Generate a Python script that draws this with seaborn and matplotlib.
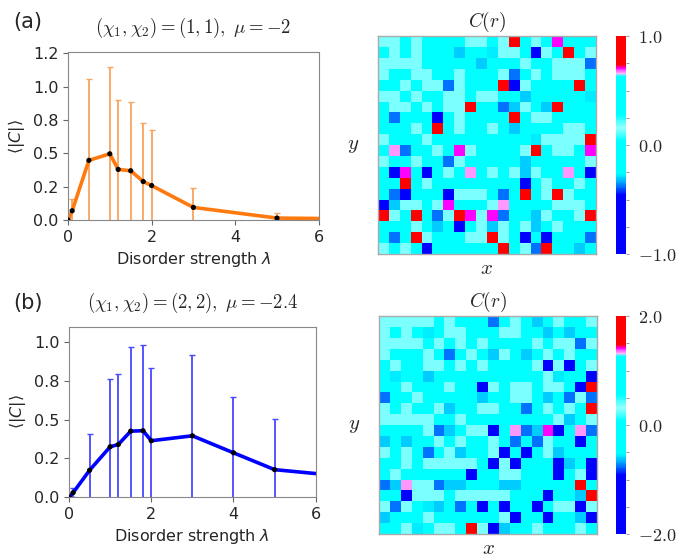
import numpy as np
import pandas as pd
import matplotlib
matplotlib.use('Agg')
import matplotlib.pyplot as plt
from matplotlib.colors import LinearSegmentedColormap
from matplotlib.ticker import FormatStrFormatter
import seaborn as sns

# disorder strength and mean |C| with error bars
lam_a = [0, 0.1, 0.5, 1.0, 1.2, 1.5, 1.8, 2.0, 3.0, 5.0, 10.0]
mean_a = [0.0, 0.07, 0.448, 0.497, 0.38, 0.37, 0.289, 0.259, 0.095, 0.015, 0.0]
err_a = [0.0, 0.087, 0.609, 0.653, 0.52, 0.513, 0.437, 0.413, 0.146, 0.035, 0.0]

lam_b = [0, 0.1, 0.5, 1.0, 1.2, 1.5, 1.8, 2.0, 3.0, 4.0, 5.0, 10.0]
mean_b = [0.0, 0.028, 0.173, 0.325, 0.34, 0.426, 0.429, 0.364, 0.396, 0.286, 0.177, 0.05]
err_b = [0.0, 0.03, 0.232, 0.437, 0.454, 0.542, 0.556, 0.469, 0.52, 0.361, 0.327, 0.0]

xticks = [0, 2, 4, 6]
yticks_a = [0, 0.25, 0.5, 0.75, 1.0, 1.25]
yticks_b = [0, 0.25, 0.5, 0.75, 1.0]

# C(r) on the 20x20 lattice (row 0 = top)
corr_a = [
    [.14, .14, 0, .14, 0, 0, 0, 0, .14, .14, 0, .14, .9, 0, .14, 0, .71, 0, 0, 0],
    [0, .14, 0, .14, 0, 0, 0, -.31, 0, 0, -.28, .14, .14, 0, -.6, .14, 0, .9, 0, .14],
    [.14, .14, .14, .14, 0, 0, 0, 0, 0, -.31, 0, 0, 0, .14, 0, 0, .14, .14, .14, -.38],
    [.14, 0, 0, .14, .14, 0, 0, .14, 0, 0, 0, .14, -.38, 0, .14, 0, .14, .14, .14, 0],
    [0, 0, .14, 0, .14, .14, -.38, .14, 0, 0, 0, .9, -.6, .14, 0, 0, 0, 0, .9, 0],
    [.14, .14, 0, .14, 0, 0, .14, .14, 0, .14, .14, 0, 0, -.31, 0, 0, 0, 0, 0, -.28],
    [0, .14, .14, 0, .14, 0, .14, .14, .9, 0, 0, -.38, -.31, .14, 0, -.31, .9, 0, 0, 0],
    [0, -.38, 0, 0, 0, -.6, 0, .14, 0, 0, 0, 0, .9, 0, .14, .14, 0, 0, 0, 0],
    [0, 0, 0, .14, 0, .9, 0, .14, 0, 0, .14, 0, -.31, 0, 0, 0, 0, .14, .14, 0],
    [.14, 0, 0, 0, .14, 0, 0, 0, 0, 0, 0, 0, 0, 0, -.28, .14, .14, .14, .14, .9],
    [0, .665, -.38, 0, 0, .14, 0, .71, .14, 0, 0, 0, 0, .14, .9, 0, .14, .14, 0, .71],
    [.14, 0, 0, .14, 0, 0, -.38, .14, 0, 0, 0, 0, 0, -.31, 0, 0, 0, 0, 0, .14],
    [0, -.6, .71, 0, -.6, 0, .14, 0, .665, 0, .14, 0, .14, -.31, .14, 0, 0, .665, 0, -.6],
    [0, 0, .9, 0, .14, 0, 0, 0, 0, 0, 0, 0, 0, -.6, 0, .14, 0, 0, .14, 0],
    [0, -.38, -.6, 0, 0, 0, -.6, .14, .14, .14, 0, -.38, 0, .9, 0, .14, .9, .14, 0, 0],
    [-.6, -.31, .14, .14, 0, .14, .71, 0, 0, 0, .14, .665, 0, 0, 0, 0, .14, .14, .14, 0],
    [.9, .14, 0, .9, 0, -.38, .14, .9, .71, .14, .71, -.38, 0, 0, -.31, .14, 0, 0, .14, .9],
    [0, 0, 0, .14, 0, -.31, 0, -.6, 0, .14, -.31, .14, 0, .14, -.31, 0, .14, 0, 0, 0],
    [0, -.38, 0, .9, .14, 0, 0, 0, .14, .14, .9, .14, 0, -.6, 0, -.6, 0, 0, 0, -.38],
    [.14, 0, .14, 0, -.6, 0, 0, 0, 0, 0, 0, .9, 0, .14, -.38, .9, 0, 0, -.31, 0],
]

corr_b = [
    [.28, .28, .28, .28, .28, 0, .28, 0, 0, 0, -.76, 0, .28, 0, -.62, 0, .28, 0, 0, .28],
    [.28, 0, .28, 0, -.56, 0, .28, .28, 0, 0, 0, .28, .28, 0, 0, -.62, 0, -.62, 0, 0],
    [.28, .28, .28, .28, 0, .28, 0, .28, 0, .28, 0, 0, 0, 0, .28, 0, .28, .28, -.76, .28],
    [.28, 0, 0, 0, .28, 0, -.76, 0, .28, 0, -.62, .28, 0, -.62, 0, .28, 0, .28, 0, 0],
    [0, .28, 0, 0, .28, .28, 0, .28, 0, .28, 0, 0, 0, 0, .28, -1.2, .28, -1.2, 0, .28],
    [0, -.56, 0, 0, -.62, 0, 0, 0, 0, 0, 0, 0, 0, 0, 0, .28, -.56, 0, 0, -1.2],
    [0, 0, .28, 0, 0, 0, .28, 0, 0, -1.2, .28, 0, .28, .28, 0, .28, .28, 0, -1.2, 1.8],
    [-.76, 0, 0, .28, 0, 0, 0, 0, 0, -.62, 0, 0, .28, .28, 0, -.62, 0, -.76, .28, -.76],
    [.28, 0, .28, 0, 0, .28, -.62, 0, 0, .28, .28, 0, 0, -.76, 0, .28, 0, .28, 0, 1.8],
    [.28, .28, .28, .28, .28, 0, 0, .28, 0, 0, 0, 0, 0, 0, 0, 0, .28, -.62, 0, .28],
    [0, 0, 0, 0, .28, -.76, -.62, 0, .28, .28, -1.2, 0, 1.33, -.76, -.62, 1.42, -1.2, 0, 1.33, -.76],
    [-.62, 0, -.62, 0, 0, .28, 0, .28, 0, 0, .28, 0, -.76, 0, -.76, .28, 0, 0, -1.2, 0],
    [.28, 0, .28, 0, -.76, 0, .28, -.62, 0, 0, .28, -1.2, 0, -1.2, 0, .28, -.62, 0, 0, 0],
    [0, 0, .28, 0, .28, .28, .28, .28, .28, 0, -1.2, .28, -1.2, 0, 0, 0, -1.2, -.62, 0, -1.2],
    [0, .28, 0, 0, 0, 0, 0, 0, -1.2, 0, 0, .28, .28, 0, 0, 0, -1.2, 0, .28, -1.2],
    [-.76, -.62, 1.33, .28, .28, -.76, -.62, -.62, 0, 0, 0, -.62, -.62, 0, 0, 0, 0, 0, 1.8, 0],
    [0, 0, -1.2, .28, .28, .28, 0, .28, .28, .28, .28, .28, 0, 0, 0, -1.2, 0, 0, -.62, 1.8],
    [.28, -.76, .28, 0, -.56, -.62, 0, -.76, 0, -1.2, 0, -1.2, 0, 0, -1.2, 0, .28, .28, -1.2, .28],
    [-.62, 0, 0, 0, .28, 0, 0, 0, 0, 0, 0, .28, -1.2, 0, 0, -1.2, 0, 0, -.62, -1.2],
    [0, 0, .28, -.56, 0, .28, .28, 0, 1.8, .28, -1.2, -.62, 0, 0, .28, 0, 0, 0, .28, 0],
]

sns.set_style('ticks')
plt.rcParams['font.family'] = ['DejaVu Sans']
plt.rcParams['mathtext.fontset'] = 'cm'

cmap = LinearSegmentedColormap.from_list('corr', [
    (0.0, '#0000ff'), (0.27, '#0000ff'), (0.31, '#0073ff'), (0.345, '#00ccff'),
    (0.37, '#00ffff'), (0.52, '#00ffff'), (0.58, '#99ffff'), (0.64, '#00ffff'),
    (0.815, '#00ffff'), (0.83, '#ffbfff'), (0.855, '#ff00ff'), (0.87, '#ff0000'),
    (1.0, '#ff0000')])

fig = plt.figure(figsize=(6.91, 5.6), dpi=100)


def line_panel(rect, lam, mean, err, color, ecolor, ylim, yticks, title):
    ax = fig.add_axes(rect)
    ax.errorbar(lam, mean, yerr=err, fmt='none', ecolor=ecolor, elinewidth=1.3,
                capsize=2.5, capthick=1.0, zorder=1)
    sns.lineplot(x=lam, y=mean, ax=ax, color=color, linewidth=2.6, zorder=2)
    sns.scatterplot(x=lam, y=mean, ax=ax, color='black', s=14, edgecolor='none', zorder=3)
    ax.set_xlim(0, 6)
    ax.set_ylim(*ylim)
    ax.set_xticks(xticks)
    ax.set_yticks(yticks)
    ax.yaxis.set_major_formatter(FormatStrFormatter('%.1f'))
    ax.tick_params(labelsize=11.5, color='#666', length=3.5)
    for s in ax.spines.values():
        s.set_color('#888')
    ax.set_xlabel(r'Disorder strength $\lambda$', fontsize=11.5, math_fontfamily='dejavusans')
    ax.set_ylabel(r'$\langle|C|\rangle$', fontsize=11.5, math_fontfamily='dejavusans')
    ax.set_title(title, fontsize=13.5, pad=14)
    return ax


def heat_panel(rect, crect, grid, vmax):
    hax = fig.add_axes(rect)
    cax = fig.add_axes(crect)
    sns.heatmap(pd.DataFrame(grid), ax=hax, cmap=cmap, vmin=-vmax, vmax=vmax,
                cbar_ax=cax, xticklabels=False, yticklabels=False)
    for s in hax.spines.values():
        s.set_visible(True)
        s.set_color('#aaaaaa')
        s.set_linewidth(1.0)
    hax.set_title('$C(r)$', fontsize=14, pad=7)
    hax.set_ylabel('$y$', fontsize=15, rotation=0, va='center')
    hax.yaxis.set_label_coords(-0.115, 0.5)
    hax.set_xlabel('$x$', fontsize=15, va='top')
    hax.xaxis.set_label_coords(0.5, -0.02)
    cb = hax.collections[0].colorbar
    cb.outline.set_visible(False)
    cb.set_ticks([-vmax, 0, vmax])
    cb.set_ticklabels(['$-%.1f$' % vmax, '$0.0$', '$%.1f$' % vmax])
    cax.set_yticks([-0.75 * vmax, -0.5 * vmax, -0.25 * vmax, 0.25 * vmax, 0.5 * vmax, 0.75 * vmax], minor=True)
    cax.tick_params(which='both', length=2.5, width=0.6, color='#888', labelsize=13, pad=6)
    return hax


line_panel([0.0984, 0.607, 0.363, 0.300], lam_a, mean_a, err_a, '#ff7a0e', '#f7a45e',
           (0, 1.26), yticks_a, r'$(\chi_1,\chi_2)=(1,1),\ \mu=-2$')
line_panel([0.0999, 0.1125, 0.357, 0.3036], lam_b, mean_b, err_b, '#0000ff', '#4848ff',
           (0, 1.1), yticks_b, r'$(\chi_1,\chi_2)=(2,2),\ \mu=-2.4$')

heat_panel([0.547, 0.5464, 0.3155, 0.389], [0.8915, 0.5464, 0.0145, 0.389], corr_a, 1.0)
heat_panel([0.5485, 0.0464, 0.3155, 0.389], [0.8915, 0.0464, 0.0145, 0.389], corr_b, 2.0)

fig.text(0.019, 0.961, '(a)', fontsize=15, va='center')
fig.text(0.019, 0.459, '(b)', fontsize=15, va='center')

fig.savefig('out.png', dpi=100)
